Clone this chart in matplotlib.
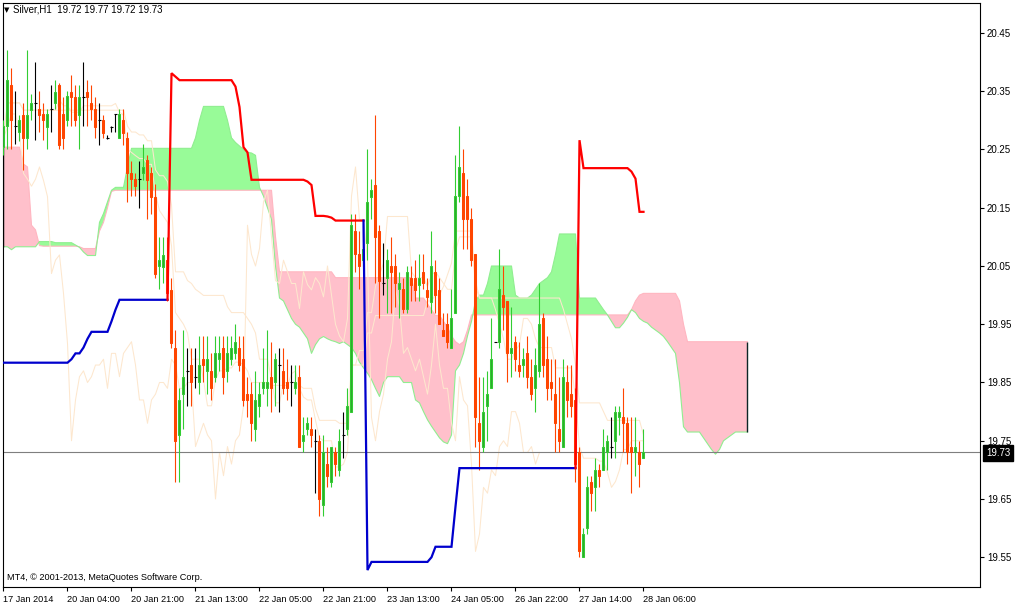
import numpy as np
import pandas as pd
import matplotlib
matplotlib.use("Agg")
import matplotlib.pyplot as plt
from matplotlib.patches import Rectangle

plt.rcParams['font.family'] = ['Liberation Sans', 'DejaVu Sans']

# Silver H1 candles (bar 0 = 17 Jan 2014 ... bar 160 = 28 Jan 06:00)
opens = [
    20.255, 20.29, 20.36, 20.29, 20.28, 20.31, 20.27, 20.318, 20.329, 20.319,
    20.311, 20.289, 20.319, 20.329, 20.361, 20.311, 20.30, 20.349, 20.34, 20.309,
    20.34, 20.349, 20.329, 20.319, 20.30, 20.30, 20.27, 20.289, 20.311, 20.27,
    20.30, 20.269, 20.209, 20.20, 20.199, 20.209, 20.232, 20.209, 20.169, 20.05,
    20.049, 20.06, 20.009, 19.91, 19.76, 19.83, 19.87, 19.88, 19.86, 19.85,
    19.89, 19.87, 19.87, 19.86, 19.89, 19.91, 19.87, 19.89, 19.90, 19.91,
    19.89, 19.83, 19.83, 19.77, 19.81, 19.84, 19.84, 19.86, 19.85, 19.88,
    19.87, 19.85, 19.85, 19.84, 19.86, 19.75, 19.77, 19.77, 19.75, 19.75,
    19.64, 19.71, 19.68, 19.73, 19.70, 19.76, 19.77, 19.80, 20.11, 20.07,
    20.06, 20.09, 20.169, 20.189, 20.11, 20.02, 20.03, 20.05, 20.05, 20.01,
    20.01, 19.977, 20.03, 20.03, 20.018, 20.04, 20.009, 19.989, 20.04, 20.009,
    19.94, 19.95, 19.91, 19.97, 20.17, 20.21, 20.17, 20.13, 20.07, 19.78,
    19.74, 19.81, 19.84, 19.92, 19.92, 20.00, 19.99, 19.90, 19.92, 19.88,
    19.88, 19.90, 19.86, 19.84, 19.87, 19.96, 19.89, 19.85, 19.83, 19.77,
    19.74, 19.85, 19.83, 19.82, 19.73, 19.55, 19.60, 19.68, 19.67, 19.70,
    19.70, 19.73, 19.74, 19.75, 19.79, 19.79, 19.78, 19.74, 19.73, 19.73,
    19.72,
]
highs = [
    20.30, 20.42, 20.39, 20.35, 20.31, 20.33, 20.42, 20.346, 20.40, 20.35,
    20.33, 20.32, 20.36, 20.37, 20.365, 20.34, 20.35, 20.378, 20.36, 20.36,
    20.40, 20.37, 20.36, 20.34, 20.33, 20.31, 20.275, 20.29, 20.311, 20.319,
    20.319, 20.28, 20.23, 20.21, 20.23, 20.26, 20.24, 20.22, 20.19, 20.10,
    20.10, 20.10, 20.03, 19.94, 19.84, 19.94, 19.91, 19.91, 19.91, 19.93,
    19.93, 19.93, 19.90, 19.93, 19.93, 19.93, 19.93, 19.93, 19.95, 19.93,
    19.93, 19.86, 19.85, 19.87, 19.85, 19.91, 19.94, 19.92, 19.90, 19.91,
    19.91, 19.89, 19.88, 19.88, 19.88, 19.79, 19.79, 19.79, 19.77, 19.76,
    19.76, 19.74, 19.74, 19.74, 19.77, 19.80, 19.84, 20.14, 20.14, 20.11,
    20.12, 20.25, 20.20, 20.31, 20.12, 20.09, 20.08, 20.10, 20.07, 20.04,
    20.03, 20.05, 20.05, 20.06, 20.07, 20.07, 20.03, 20.11, 20.06, 20.03,
    19.97, 19.97, 20.01, 20.24, 20.29, 20.25, 20.20, 20.15, 20.07, 19.86,
    19.86, 19.87, 19.96, 19.92, 20.08, 20.05, 19.99, 19.98, 19.93, 19.92,
    19.91, 19.93, 19.89, 19.91, 20.02, 19.97, 19.93, 19.89, 19.89, 19.86,
    19.89, 19.88, 19.88, 19.84, 19.74, 19.60, 19.69, 19.69, 19.72, 19.71,
    19.77, 19.76, 19.79, 19.81, 19.81, 19.84, 19.79, 19.79, 19.79, 19.75,
    19.77,
]
lows = [
    20.24, 20.25, 20.25, 20.26, 20.265, 20.215, 20.25, 20.30, 20.266, 20.28,
    20.266, 20.25, 20.28, 20.32, 20.25, 20.25, 20.29, 20.29, 20.29, 20.25,
    20.29, 20.29, 20.30, 20.27, 20.258, 20.27, 20.268, 20.28, 20.28, 20.27,
    20.258, 20.16, 20.17, 20.17, 20.15, 20.198, 20.13, 20.14, 20.03, 20.01,
    20.02, 19.99, 19.91, 19.68, 19.68, 19.77, 19.81, 19.81, 19.84, 19.83,
    19.85, 19.83, 19.82, 19.85, 19.87, 19.83, 19.85, 19.88, 19.89, 19.87,
    19.81, 19.79, 19.75, 19.75, 19.79, 19.83, 19.81, 19.80, 19.81, 19.80,
    19.83, 19.82, 19.81, 19.83, 19.74, 19.73, 19.76, 19.74, 19.66, 19.62,
    19.62, 19.67, 19.67, 19.69, 19.69, 19.72, 19.76, 19.80, 20.04, 20.01,
    20.05, 20.06, 20.13, 20.02, 19.96, 20.00, 19.97, 19.97, 19.98, 19.96,
    19.97, 19.97, 19.99, 19.99, 19.99, 20.01, 19.98, 19.97, 19.97, 19.95,
    19.93, 19.91, 19.91, 19.97, 20.16, 20.08, 20.08, 20.05, 19.74, 19.70,
    19.73, 19.75, 19.84, 19.92, 19.91, 19.94, 19.85, 19.86, 19.87, 19.86,
    19.86, 19.84, 19.82, 19.80, 19.86, 19.86, 19.82, 19.82, 19.73, 19.73,
    19.74, 19.79, 19.79, 19.68, 19.55, 19.55, 19.59, 19.63, 19.63, 19.67,
    19.70, 19.70, 19.72, 19.72, 19.76, 19.73, 19.71, 19.66, 19.69, 19.67,
    19.72,
]
closes = [
    20.29, 20.37, 20.30, 20.29, 20.30, 20.27, 20.31, 20.329, 20.329, 20.309,
    20.30, 20.311, 20.319, 20.349, 20.258, 20.269, 20.341, 20.34, 20.30, 20.34,
    20.34, 20.34, 20.319, 20.289, 20.30, 20.279, 20.27, 20.289, 20.311, 20.311,
    20.279, 20.209, 20.199, 20.187, 20.199, 20.22, 20.197, 20.169, 20.037, 20.06,
    20.069, 20.003, 19.917, 19.75, 19.82, 19.86, 19.87, 19.85, 19.86, 19.88,
    19.88, 19.89, 19.84, 19.90, 19.90, 19.86, 19.90, 19.91, 19.92, 19.88,
    19.82, 19.82, 19.78, 19.82, 19.83, 19.85, 19.85, 19.84, 19.89, 19.88,
    19.84, 19.84, 19.85, 19.85, 19.74, 19.76, 19.78, 19.76, 19.75, 19.65,
    19.73, 19.69, 19.74, 19.71, 19.75, 19.76, 19.81, 20.12, 20.07, 20.05,
    20.08, 20.16, 20.18, 20.10, 20.025, 20.02, 20.06, 20.04, 20.02, 20.02,
    19.977, 20.04, 20.018, 20.009, 20.03, 20.02, 19.997, 20.05, 20.00, 19.95,
    19.93, 19.92, 19.96, 20.17, 20.22, 20.13, 20.13, 20.06, 19.79, 19.75,
    19.80, 19.83, 19.89, 19.92, 20.01, 19.98, 19.90, 19.91, 19.89, 19.87,
    19.89, 19.86, 19.83, 19.88, 19.95, 19.88, 19.84, 19.84, 19.78, 19.75,
    19.86, 19.82, 19.81, 19.71, 19.56, 19.59, 19.67, 19.66, 19.70, 19.69,
    19.74, 19.75, 19.74, 19.80, 19.80, 19.78, 19.73, 19.73, 19.74, 19.71,
    19.73,
]

# thick trend line (blue under price, red above price)
trend = [
    19.884, 19.884, 19.884, 19.884, 19.884, 19.884, 19.884, 19.884, 19.884, 19.884,
    19.884, 19.884, 19.884, 19.884, 19.884, 19.884, 19.884, 19.89, 19.90, 19.90,
    19.91, 19.925, 19.937, 19.937, 19.937, 19.937, 19.937, 19.955, 19.975, 19.992,
    19.992, 19.992, 19.992, 19.992, 19.992, 19.992, 19.992, 19.992, 19.992, 19.992,
    19.992, 19.992, 20.381, 20.375, 20.369, 20.369, 20.369, 20.369, 20.369, 20.369,
    20.369, 20.369, 20.369, 20.369, 20.369, 20.369, 20.369, 20.369, 20.358, 20.323,
    20.254, 20.245, 20.198, 20.198, 20.198, 20.198, 20.198, 20.198, 20.198, 20.198,
    20.198, 20.198, 20.198, 20.198, 20.198, 20.198, 20.195, 20.189, 20.136, 20.136,
    20.136, 20.135, 20.133, 20.128, 20.128, 20.128, 20.128, 20.128, 20.128, 20.128,
    20.128, 19.528, 19.542, 19.542, 19.542, 19.542, 19.542, 19.542, 19.542, 19.542,
    19.542, 19.542, 19.542, 19.542, 19.542, 19.542, 19.542, 19.55, 19.568, 19.568,
    19.568, 19.568, 19.568, 19.637, 19.703, 19.703, 19.703, 19.703, 19.703, 19.703,
    19.703, 19.703, 19.703, 19.703, 19.703, 19.703, 19.703, 19.703, 19.703, 19.703,
    19.703, 19.703, 19.703, 19.703, 19.703, 19.703, 19.703, 19.703, 19.703, 19.703,
    19.703, 19.703, 19.703, 19.703, 20.266, 20.218, 20.218, 20.218, 20.218, 20.218,
    20.218, 20.218, 20.218, 20.218, 20.218, 20.218, 20.218, 20.212, 20.20, 20.143,
    20.143,
]

# Ichimoku cloud edges, bars 0..186 (shifted 26 bars ahead)
span_a = [
    20.083, 20.083, 20.078, 20.083, 20.083, 20.083, 20.083, 20.083, 20.083, 20.092,
    20.092, 20.092, 20.092, 20.09, 20.09, 20.09, 20.09, 20.09, 20.086, 20.082,
    20.074, 20.068, 20.068, 20.068, 20.125, 20.14, 20.16, 20.18, 20.185, 20.185,
    20.185, 20.22, 20.252, 20.252, 20.252, 20.252, 20.252, 20.252, 20.252, 20.252,
    20.252, 20.252, 20.252, 20.252, 20.252, 20.252, 20.252, 20.252, 20.27, 20.30,
    20.324, 20.324, 20.324, 20.324, 20.324, 20.324, 20.30, 20.27, 20.262, 20.256,
    20.25, 20.245, 20.244, 20.24, 20.185, 20.17, 20.15, 20.13, 20.05, 19.995,
    19.99, 19.975, 19.96, 19.95, 19.945, 19.935, 19.925, 19.90, 19.915, 19.925,
    19.929, 19.925, 19.922, 19.92, 19.917, 19.92, 19.915, 19.91, 19.90, 19.885,
    19.875, 19.866, 19.855, 19.84, 19.826, 19.85, 19.86, 19.86, 19.86, 19.86,
    19.85, 19.85, 19.85, 19.82, 19.815, 19.80, 19.786, 19.775, 19.765, 19.755,
    19.748, 19.745, 19.76, 19.87, 19.88, 19.90, 19.93, 19.955, 19.99, 20.0,
    20.0, 20.02, 20.05, 20.05, 20.05, 20.05, 20.05, 20.05, 20.0, 19.995,
    19.995, 19.995, 20.0, 20.01, 20.02, 20.025, 20.03, 20.04, 20.07, 20.105,
    20.105, 20.105, 20.105, 20.105, 19.995, 19.995, 19.995, 19.995, 19.995, 19.985,
    19.975, 19.966, 19.955, 19.944, 19.944, 19.952, 19.962, 19.975, 19.97, 19.96,
    19.955, 19.952, 19.945, 19.94, 19.935, 19.929, 19.92, 19.91, 19.90, 19.85,
    19.774, 19.765, 19.765, 19.765, 19.765, 19.755, 19.745, 19.735, 19.727, 19.735,
    19.75, 19.755, 19.76, 19.765, 19.765, 19.765, 19.765,
]
span_b = [
    20.254, 20.254, 20.254, 20.254, 20.254, 20.225, 20.22, 20.12, 20.112, 20.085,
    20.084, 20.084, 20.084, 20.084, 20.084, 20.084, 20.084, 20.084, 20.084, 20.083,
    20.08, 20.08, 20.08, 20.08, 20.11, 20.125, 20.15, 20.178, 20.18, 20.18,
    20.18, 20.18, 20.18, 20.18, 20.18, 20.18, 20.18, 20.18, 20.18, 20.18,
    20.18, 20.18, 20.18, 20.18, 20.18, 20.18, 20.18, 20.18, 20.18, 20.18,
    20.18, 20.18, 20.18, 20.18, 20.18, 20.18, 20.18, 20.18, 20.18, 20.18,
    20.18, 20.18, 20.18, 20.18, 20.18, 20.18, 20.18, 20.18, 20.10, 20.04,
    20.04, 20.04, 20.04, 20.04, 20.04, 20.04, 20.04, 20.04, 20.04, 20.04,
    20.04, 20.04, 20.04, 20.03, 20.03, 20.03, 20.03, 20.03, 20.03, 20.03,
    20.03, 20.03, 20.03, 20.03, 20.03, 20.03, 20.03, 20.03, 20.03, 20.03,
    20.03, 20.03, 20.03, 19.995, 19.995, 19.995, 19.985, 19.975, 19.965, 19.965,
    19.955, 19.945, 19.93, 19.92, 19.915, 19.92, 19.94, 19.966, 19.966, 19.966,
    19.966, 19.966, 19.966, 19.966, 19.966, 19.966, 19.966, 19.966, 19.966, 19.966,
    19.966, 19.966, 19.966, 19.966, 19.966, 19.966, 19.966, 19.966, 19.966, 19.966,
    19.966, 19.966, 19.966, 19.966, 19.966, 19.966, 19.966, 19.966, 19.966, 19.966,
    19.966, 19.966, 19.966, 19.966, 19.966, 19.966, 19.966, 19.975, 19.99, 20.0,
    20.003, 20.003, 20.003, 20.003, 20.003, 20.003, 20.003, 20.003, 20.003, 19.99,
    19.95, 19.92, 19.92, 19.92, 19.92, 19.92, 19.92, 19.92, 19.92, 19.92,
    19.92, 19.92, 19.92, 19.92, 19.92, 19.92, 19.92,
]

x_labels = ["17 Jan 2014", "20 Jan 04:00", "20 Jan 21:00", "21 Jan 13:00",
            "22 Jan 05:00", "22 Jan 21:00", "23 Jan 13:00", "24 Jan 05:00",
            "26 Jan 22:00", "27 Jan 14:00", "28 Jan 06:00"]
label_bars = [0, 16, 32, 48, 64, 80, 96, 112, 128, 144, 160]
price_ticks = [19.55, 19.65, 19.75, 19.85, 19.95, 20.05, 20.15, 20.25, 20.35, 20.45]
last_price = 19.73

BULL_EDGE = "#32CD32"
BULL_FILL = "#2FA82F"
BEAR = "#FF4500"
CLOUD_UP = "#98FB98"
CLOUD_DN = "#FFC0CB"
THIN = "#FDE7CE"

W, H = 1020, 606
fig = plt.figure(figsize=(W / 100, H / 100), dpi=100)
fig.patch.set_facecolor("white")
# plot box from x=3..980, y=3..587 pixels
ax = fig.add_axes([3 / W, (H - 587) / H, 977 / W, 584 / H])
ax.set_facecolor("white")

o = np.array(opens)
h = np.array(highs)
l = np.array(lows)
c = np.array(closes)
n = len(o)
idx = np.arange(n)

# cloud
a = np.array(span_a)
b = np.array(span_b)
cx = np.arange(len(a))
ax.fill_between(cx, a, b, where=a >= b, interpolate=True, color=CLOUD_UP, lw=0, zorder=1)
ax.fill_between(cx, a, b, where=a < b, interpolate=True, color=CLOUD_DN, lw=0, zorder=1)
ax.plot(cx, b, color="#FFB6C1", lw=0.8, zorder=1.2)
ax.plot(cx, a, color="#90EE90", lw=0.8, zorder=1.3)
ax.vlines([cx[0], cx[-1]], [a[0], a[-1]], [b[0], b[-1]], color="#0d2626", lw=1.0, zorder=1.4)

# tenkan / kijun / chikou (thin lines)
hs = pd.Series(h)
ls = pd.Series(l)
tenkan = (hs.rolling(9, min_periods=1).max() + ls.rolling(9, min_periods=1).min()) / 2
kijun = (hs.rolling(26, min_periods=1).max() + ls.rolling(26, min_periods=1).min()) / 2
ax.plot(idx, tenkan, color=THIN, lw=0.75, zorder=2)
ax.plot(idx, kijun, color=THIN, lw=0.75, zorder=2)
ax.plot(idx[:n - 26], c[26:], color=THIN, lw=0.75, zorder=2)

# current price line
ax.axhline(last_price, color="#7f7f7f", lw=0.8, zorder=2.5)

# candles
up = c > o
dn = c < o
dj = c == o
ax.vlines(idx[up], l[up], h[up], color=BULL_EDGE, lw=0.8, zorder=3)
ax.vlines(idx[dn], l[dn], h[dn], color=BEAR, lw=0.8, zorder=3)
ax.vlines(idx[dj], l[dj], h[dj], color="black", lw=0.8, zorder=3)
ax.hlines(o[dj], idx[dj] - 0.4, idx[dj] + 0.4, color="black", lw=0.8, zorder=3)
for i in idx[up | dn]:
    lo, hi = min(o[i], c[i]), max(o[i], c[i])
    if up[i]:
        fc, ec = BULL_FILL, BULL_EDGE
    else:
        fc, ec = BEAR, BEAR
    ax.add_patch(Rectangle((i - 0.25, lo), 0.5, hi - lo, facecolor=fc,
                           edgecolor=ec, lw=0.75, zorder=3.2))

# trend line, coloured by side of price
t = np.array(trend)
red = t > c
start = 0
for i in range(1, n + 1):
    if i == n or red[i] != red[start]:
        x0 = max(start - 1, 0)
        ax.plot(idx[x0:i], t[x0:i], color="red" if red[start] else "#0000CD",
                lw=1.6, zorder=4, solid_joinstyle="miter")
        start = i

ax.set_xlim((3 - 3.5) / 4, (980 - 3.5) / 4)
ax.set_ylim(20.45 - 554 / 582.5, 20.45 + 30 / 582.5)

for s in ax.spines.values():
    s.set_color("black")
    s.set_linewidth(0.8)

ax.yaxis.tick_right()
ax.set_yticks(price_ticks)
ax.set_yticklabels([f"{p:.2f}" for p in price_ticks], fontsize=7)
ax.tick_params(axis="y", length=3, width=0.8, pad=2, direction="out")
ax.set_xticks(label_bars)
ax.set_xticklabels(x_labels, fontsize=6.6, ha="left")
ax.tick_params(axis="x", length=3, width=0.8, pad=2.5, direction="out")

# price label box
fig.text(986 / W, 1 - 453 / H, f"{last_price:.2f}", fontsize=7, color="white",
         va="center", ha="left",
         bbox=dict(boxstyle="square,pad=0.3", fc="black", ec="black"))

# header and footer texts
fig.text(3.5 / W, 1 - 10 / H, "\u25BC", fontsize=5, family="DejaVu Sans",
         va="center", ha="left")
fig.text(13 / W, 1 - 10 / H, "Silver,H1  19.72 19.77 19.72 19.73",
         fontsize=7, va="center", ha="left")
fig.text(7 / W, 1 - 578 / H, "MT4, \u00A9 2001-2013, MetaQuotes Software Corp.",
         fontsize=6.6, va="center", ha="left")

fig.savefig("out.png", dpi=100, facecolor="white")
